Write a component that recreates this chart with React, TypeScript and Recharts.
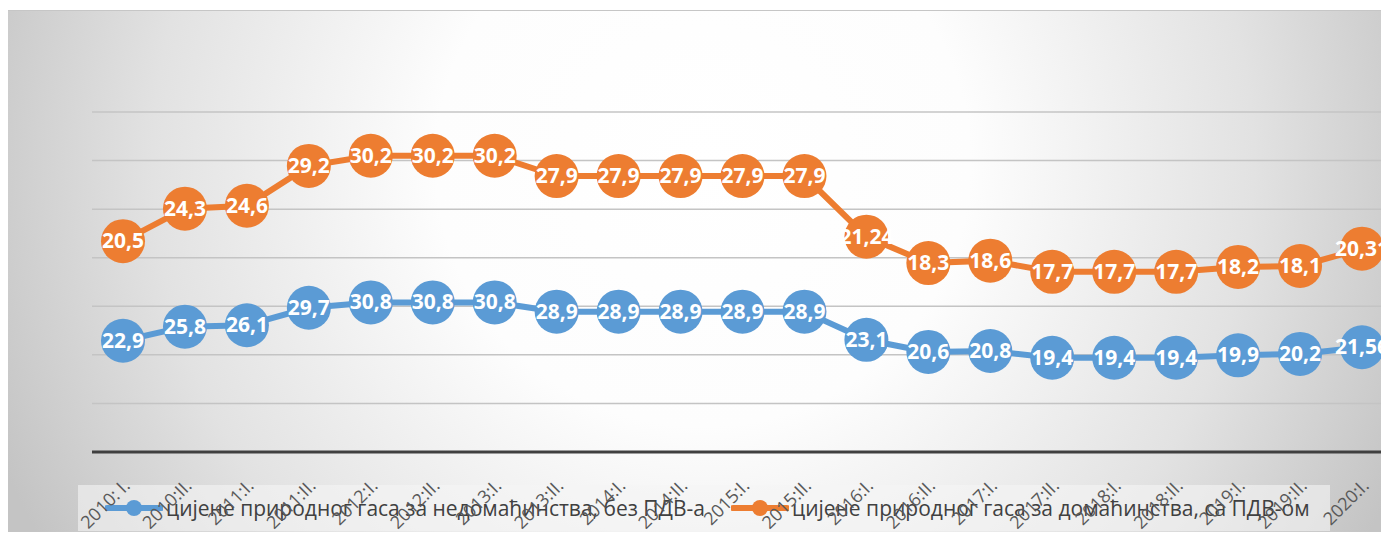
import React from "react";
import {
  AreaChart,
  Area,
  XAxis,
  YAxis,
  CartesianGrid,
} from "recharts";

// периоди (полугодишта)
const periods = [
  "2010: I.", "2010:II.", "2011:I.", "2011:II.", "2012:I.", "2012:II.", "2013:I.",
  "2013:II.", "2014:I.", "2014:II.", "2015:I.", "2015:II.", "2016:I.", "2016:II.",
  "2017:I.", "2017:II.", "2018:I.", "2018:II.", "2019:I.", "2019:II.", "2020:I.",
];

// цијене за недомаћинства, без ПДВ-а
const nonHousehold = [
  22.9, 25.8, 26.1, 29.7, 30.8, 30.8, 30.8, 28.9, 28.9, 28.9, 28.9,
  28.9, 23.1, 20.6, 20.8, 19.4, 19.4, 19.4, 19.9, 20.2, 21.56,
];

// цијене за домаћинства, са ПДВ-ом
const household = [
  20.5, 24.3, 24.6, 29.2, 30.2, 30.2, 30.2, 27.9, 27.9, 27.9, 27.9,
  27.9, 21.24, 18.3, 18.6, 17.7, 17.7, 17.7, 18.2, 18.1, 20.31,
];

const yTicks = [0, 10, 20, 30, 40, 50, 60, 70];

const seriesNames = {
  blue: "цијене природног гаса за недомаћинства, без ПДВ-а",
  orange: "цијене природног гаса за домаћинства, са ПДВ-ом",
};

const colors = { blue: "#5b9bd5", orange: "#ed7d31" };

const data = periods.map((p, i) => ({
  name: p,
  blue: nonHousehold[i],
  orange: household[i],
}));

const fmt = (v: number) => String(v).replace(".", ",");

const makeDot = (key: "blue" | "orange") => (props: any) => {
  const { cx, cy, payload, index } = props;
  if (cx == null || cy == null) return <g key={key + index} />;
  return (
    <g key={key + index}>
      <circle cx={cx} cy={cy} r={22} fill={colors[key]} />
      <text
        x={cx}
        y={cy}
        dy={7}
        textAnchor="middle"
        fill="#ffffff"
        fontSize={21}
        fontWeight="bold"
        fontFamily="'Open Sans', sans-serif"
      >
        {fmt(payload[key])}
      </text>
    </g>
  );
};

const TickLabel = (props: any) => {
  const { x, y, payload } = props;
  return (
    <g transform={`translate(${x + 8},${y + 27})`}>
      <text
        textAnchor="end"
        transform="rotate(-45)"
        fill="#595959"
        fontSize={18}
        fontFamily="'Open Sans', sans-serif"
      >
        {payload.value}
      </text>
    </g>
  );
};

// легенда лежи испод ознака на оси, као у оригиналу
const LegendBox = () => (
  <div
    style={{
      position: "absolute",
      left: 78,
      top: 485,
      display: "flex",
      alignItems: "center",
      height: 46,
      width: 1252,
      background: "rgba(245,245,245,0.6)",
      fontFamily: "'Open Sans', sans-serif",
      fontSize: 21,
      color: "#404040",
      whiteSpace: "nowrap",
    }}
  >
    {(["blue", "orange"] as const).map((k, i) => (
      <div
        key={k}
        style={{ display: "flex", alignItems: "center", marginLeft: i === 0 ? 27 : 26 }}
      >
        <svg width={58} height={20} style={{ marginRight: 3 }}>
          <line x1={2} y1={10} x2={56} y2={10} stroke={colors[k]} strokeWidth={6} strokeLinecap="round" />
          <circle cx={29} cy={10} r={8} fill={colors[k]} />
        </svg>
        <span>{seriesNames[k]}</span>
      </div>
    ))}
  </div>
);

const App = () => {
  return (
    <div style={{ margin: -8, position: "relative", width: 1389, height: 540, background: "#fff", overflow: "hidden" }}>
      <div
        style={{
          position: "absolute",
          left: 7,
          top: 10,
          width: 1390,
          height: 540,
          borderTop: "1.5px solid #c6c6c6",
          borderLeft: "1.5px solid #c6c6c6",
          background:
            "radial-gradient(ellipse 55% 140% at 50% 28%, #ffffff 0%, #fdfdfd 35%, #e2e2e2 72%, #c4c4c4 100%)",
        }}
      />
      <LegendBox />
      <div style={{ position: "absolute", left: 0, top: 0 }}>
        <AreaChart
          width={1389}
          height={540}
          data={data}
          margin={{ top: 112, right: 0, left: 92, bottom: 48 }}
        >
          <CartesianGrid vertical={false} stroke="#c4c4c4" strokeWidth={1.5} />
          <XAxis
            dataKey="name"
            height={40}
            padding={{ left: 31, right: 27 }}
            axisLine={{ stroke: "#404040", strokeWidth: 3 }}
            tickLine={false}
            tick={<TickLabel />}
            interval={0}
          />
          <YAxis hide domain={[0, 70]} ticks={yTicks} />
          <Area
            type="linear"
            dataKey="blue"
            stackId="1"
            stroke={colors.blue}
            strokeWidth={6}
            fill="none"
            dot={makeDot("blue")}
            activeDot={false}
            isAnimationActive={false}
          />
          <Area
            type="linear"
            dataKey="orange"
            stackId="1"
            stroke={colors.orange}
            strokeWidth={6}
            fill="none"
            dot={makeDot("orange")}
            activeDot={false}
            isAnimationActive={false}
          />
        </AreaChart>
      </div>
    </div>
  );
};

export default App;
